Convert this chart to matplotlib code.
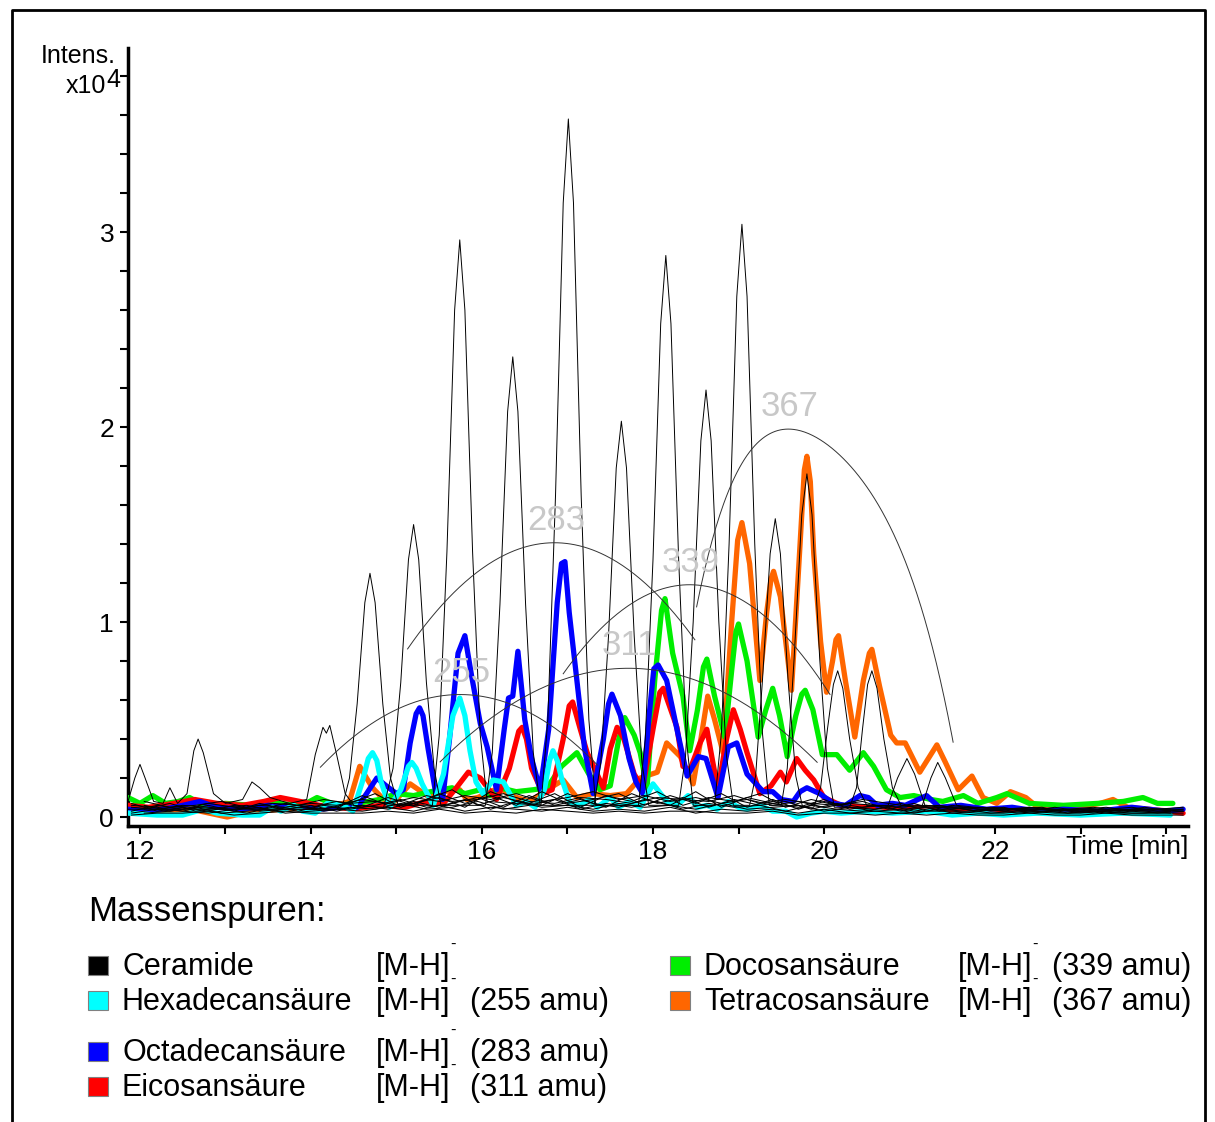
import matplotlib
matplotlib.use("Agg")
import matplotlib.pyplot as plt
from matplotlib.patches import Rectangle
from matplotlib.lines import Line2D
import numpy

plt.rcParams['font.family'] = ['Liberation Sans', 'DejaVu Sans']

# time [min] / intensity [x10^4]

# ceramide traces with the big peaks (two traces, alternating peaks)
ceramideA = [(11.86,0.08),(11.94,0.20),(12.00,0.27),(12.06,0.20),(12.16,0.08),(12.27,0.07),(12.35,0.15),
             (12.44,0.07),(12.55,0.12),(12.63,0.34),(12.68,0.40),(12.74,0.33),(12.86,0.12),(13.00,0.07),
             (13.20,0.09),(13.31,0.18),(13.40,0.15),(13.52,0.10),(13.75,0.07),(13.95,0.09),(14.05,0.32),
             (14.14,0.46),(14.18,0.43),(14.22,0.47),(14.30,0.32),(14.40,0.12),(14.50,0.06),(14.85,0.05),
             (14.96,0.25),(15.05,0.69),(15.14,1.32),(15.20,1.50),(15.26,1.32),(15.35,0.69),(15.44,0.25),
             (15.52,0.06),(16.04,0.06),(16.12,0.33),(16.21,1.09),(16.30,2.08),(16.36,2.36),(16.42,2.08),
             (16.51,1.09),(16.60,0.33),(16.68,0.06),(17.31,0.06),(17.39,0.28),(17.48,0.93),(17.57,1.79),
             (17.63,2.03),(17.69,1.79),(17.78,0.93),(17.87,0.28),(17.95,0.06),(18.30,0.06),(18.38,0.31),
             (18.47,1.00),(18.56,1.93),(18.62,2.19),(18.68,1.93),(18.77,1.00),(18.86,0.31),(18.94,0.06),
             (19.13,0.06),(19.20,0.21),(19.28,0.70),(19.37,1.35),(19.43,1.53),(19.49,1.35),(19.58,0.70),
             (19.67,0.21),(19.75,0.05),(19.88,0.05),(19.96,0.15),(20.04,0.45),(20.11,0.68),(20.16,0.75),
             (20.22,0.66),(20.30,0.40),(20.40,0.15),(20.50,0.06),(20.75,0.06),(20.86,0.20),(20.97,0.30),
             (21.06,0.22),(21.18,0.06),(21.60,0.05),(22.50,0.04),(24.20,0.04)]
ceramideB = [(11.86,0.04),(13.00,0.04),(14.30,0.04),(14.37,0.06),(14.45,0.20),(14.54,0.58),(14.63,1.10),
             (14.69,1.25),(14.75,1.10),(14.84,0.58),(14.93,0.20),(15.02,0.06),(15.42,0.06),(15.50,0.42),
             (15.59,1.36),(15.68,2.60),(15.74,2.96),(15.80,2.60),(15.89,1.36),(15.98,0.42),(16.06,0.08),
             (16.69,0.06),(16.77,0.50),(16.86,1.65),(16.95,3.15),(17.01,3.58),(17.07,3.15),(17.16,1.65),
             (17.25,0.50),(17.33,0.06),(17.83,0.06),(17.91,0.40),(18.00,1.32),(18.09,2.53),(18.15,2.88),
             (18.21,2.53),(18.30,1.32),(18.39,0.40),(18.47,0.06),(18.72,0.06),(18.80,0.43),(18.89,1.40),
             (18.98,2.67),(19.04,3.04),(19.10,2.67),(19.19,1.40),(19.28,0.43),(19.36,0.06),(19.50,0.06),
             (19.57,0.25),(19.65,0.81),(19.74,1.55),(19.80,1.76),(19.86,1.55),(19.95,0.81),(20.04,0.25),
             (20.12,0.05),(20.30,0.05),(20.38,0.15),(20.45,0.45),(20.51,0.68),(20.56,0.75),(20.62,0.66),
             (20.70,0.40),(20.80,0.15),(20.90,0.06),(21.15,0.06),(21.25,0.20),(21.33,0.28),(21.42,0.20),
             (21.55,0.06),(22.00,0.04),(24.20,0.03)]

# ceramide background traces on two sampling grids
noise_time = [11.9,12.2,12.5,12.8,13.1,13.4,13.7,14.0,14.3,14.6,14.9,15.2,15.5,15.8,16.1,16.4,16.7,17.0,
              17.3,17.6,17.9,18.2,18.5,18.8,19.1,19.4,19.7,20.0,20.3,20.6,20.9,21.2,21.5,21.8,22.1,22.4,
              22.7,23.0,23.3,23.6,23.9,24.2]
noise1 = [0.05,0.04,0.06,0.05,0.04,0.06,0.05,0.07,0.06,0.09,0.07,0.10,0.08,0.11,0.09,0.12,0.08,0.10,0.13,0.09,0.11,
          0.08,0.10,0.07,0.09,0.06,0.08,0.05,0.07,0.06,0.05,0.06,0.04,0.05,0.04,0.05,0.03,0.04,0.05,0.03,0.04,0.03]
noise2 = [0.03,0.06,0.04,0.07,0.05,0.04,0.07,0.05,0.08,0.05,0.10,0.06,0.12,0.07,0.11,0.06,0.13,0.07,0.09,0.12,0.06,
          0.11,0.07,0.12,0.05,0.09,0.04,0.08,0.05,0.04,0.07,0.03,0.06,0.04,0.03,0.05,0.04,0.03,0.04,0.05,0.03,0.04]
noise3 = [0.07,0.03,0.05,0.03,0.06,0.03,0.04,0.06,0.03,0.06,0.04,0.08,0.05,0.09,0.04,0.08,0.05,0.06,0.04,0.07,0.05,
          0.06,0.04,0.07,0.04,0.05,0.06,0.03,0.05,0.03,0.04,0.05,0.02,0.03,0.05,0.02,0.03,0.04,0.02,0.03,0.02,0.03]
noise4 = [0.02,0.04,0.03,0.02,0.04,0.05,0.02,0.03,0.04,0.03,0.05,0.03,0.06,0.03,0.05,0.04,0.03,0.05,0.03,0.04,0.03,
          0.05,0.02,0.04,0.03,0.04,0.02,0.04,0.02,0.03,0.02,0.03,0.03,0.02,0.02,0.03,0.02,0.02,0.03,0.02,0.02,0.02]
noise5 = [0.06,0.05,0.03,0.06,0.03,0.07,0.04,0.04,0.05,0.11,0.06,0.07,0.10,0.05,0.13,0.08,0.06,0.12,0.07,0.05,0.09,
          0.06,0.13,0.05,0.10,0.07,0.05,0.09,0.04,0.06,0.03,0.05,0.05,0.03,0.04,0.03,0.05,0.03,0.03,0.04,0.04,0.05]
noise6 = [0.01,0.02,0.02,0.03,0.01,0.02,0.03,0.02,0.02,0.02,0.03,0.02,0.04,0.02,0.03,0.02,0.04,0.03,0.02,0.03,0.02,
          0.03,0.03,0.02,0.02,0.03,0.01,0.02,0.02,0.01,0.02,0.01,0.02,0.01,0.01,0.02,0.01,0.01,0.02,0.01,0.01,0.01]
noise_time_b = [12.05,12.35,12.65,12.95,13.25,13.55,13.85,14.15,14.45,14.75,15.05,15.35,15.65,15.95,16.25,16.55,
                16.85,17.15,17.45,17.75,18.05,18.35,18.65,18.95,19.25,19.55,19.85,20.15,20.45,20.75,21.05,21.35,
                21.65,21.95,22.25,22.55,22.85,23.15,23.45,23.75,24.05]
noise7 = [0.04,0.07,0.03,0.05,0.06,0.03,0.05,0.04,0.07,0.12,0.05,0.09,0.14,0.06,0.10,0.07,0.12,0.05,0.11,0.08,0.13,
          0.06,0.10,0.08,0.12,0.05,0.09,0.06,0.08,0.04,0.07,0.03,0.05,0.03,0.04,0.05,0.02,0.04,0.03,0.05,0.03]
noise8 = [0.06,0.03,0.05,0.04,0.02,0.05,0.03,0.06,0.04,0.06,0.09,0.05,0.07,0.10,0.05,0.11,0.06,0.09,0.05,0.12,0.07,
          0.10,0.05,0.09,0.06,0.08,0.04,0.07,0.05,0.06,0.03,0.05,0.04,0.02,0.03,0.04,0.03,0.02,0.04,0.03,0.02]
noise9 = [0.02,0.03,0.05,0.02,0.03,0.04,0.06,0.03,0.05,0.04,0.07,0.04,0.05,0.08,0.04,0.06,0.09,0.04,0.07,0.05,0.08,
          0.04,0.07,0.05,0.06,0.03,0.06,0.04,0.03,0.05,0.02,0.04,0.03,0.04,0.02,0.03,0.02,0.03,0.02,0.02,0.03]
noise10 = [0.08,0.05,0.06,0.08,0.05,0.07,0.06,0.09,0.07,0.08,0.06,0.11,0.08,0.09,0.12,0.08,0.07,0.10,0.09,0.07,0.10,
           0.09,0.08,0.11,0.07,0.09,0.07,0.06,0.09,0.07,0.05,0.06,0.04,0.05,0.04,0.03,0.04,0.05,0.03,0.04,0.04]

hexadecan = [(11.86,0.02),(12.20,0.01),(12.50,0.01),(12.74,0.04),(12.90,0.02),(13.20,0.01),(13.40,0.01),
             (13.55,0.05),(13.65,0.03),(13.80,0.06),(13.90,0.03),(14.05,0.02),(14.19,0.07),(14.37,0.06),
             (14.49,0.03),(14.60,0.18),(14.67,0.30),(14.72,0.33),(14.77,0.29),(14.82,0.18),(14.92,0.05),
             (15.05,0.14),(15.14,0.26),(15.18,0.28),(15.23,0.25),(15.30,0.17),(15.43,0.06),(15.55,0.22),
             (15.66,0.52),(15.74,0.61),(15.80,0.52),(15.86,0.34),(15.93,0.18),(16.01,0.12),(16.13,0.19),
             (16.25,0.18),(16.40,0.06),(16.52,0.08),(16.62,0.05),(16.73,0.14),(16.79,0.29),(16.83,0.34),
             (16.88,0.29),(16.93,0.20),(17.03,0.07),(17.15,0.06),(17.25,0.09),(17.35,0.05),(17.50,0.10),
             (17.60,0.05),(17.72,0.08),(17.85,0.05),(18.00,0.17),(18.16,0.08),(18.28,0.06),(18.41,0.11),
             (18.52,0.05),(18.63,0.06),(18.75,0.04),(18.88,0.08),(19.00,0.05),(19.10,0.04),(19.25,0.06),
             (19.40,0.03),(19.55,0.03),(19.68,0.00),(19.85,0.02),(20.00,0.03),(20.20,0.02),(20.50,0.03),
             (20.80,0.02),(21.20,0.03),(21.50,0.01),(21.80,0.02),(22.10,0.01),(22.50,0.02),(23.00,0.01),
             (23.50,0.02),(24.05,0.01)]
octadecan = [(11.86,0.04),(12.10,0.03),(12.40,0.05),(12.70,0.08),(12.90,0.05),(13.20,0.04),(13.50,0.06),
             (13.80,0.05),(14.10,0.04),(14.35,0.05),(14.54,0.05),(14.65,0.12),(14.77,0.20),(14.88,0.16),
             (15.00,0.12),(15.08,0.14),(15.16,0.38),(15.23,0.53),(15.27,0.56),(15.31,0.52),(15.37,0.35),
             (15.46,0.12),(15.54,0.09),(15.62,0.40),(15.72,0.84),(15.80,0.93),(15.88,0.72),(15.98,0.48),
             (16.06,0.36),(16.17,0.14),(16.26,0.45),(16.31,0.61),(16.36,0.62),(16.42,0.85),(16.50,0.50),
             (16.58,0.30),(16.68,0.14),(16.78,0.45),(16.88,1.10),(16.93,1.30),(16.97,1.31),(17.02,1.05),
             (17.11,0.70),(17.20,0.35),(17.30,0.12),(17.42,0.40),(17.48,0.58),(17.52,0.63),(17.62,0.52),
             (17.72,0.30),(17.80,0.18),(17.88,0.12),(17.95,0.50),(18.01,0.76),(18.06,0.78),(18.16,0.70),
             (18.28,0.45),(18.40,0.21),(18.53,0.31),(18.62,0.30),(18.76,0.10),(18.88,0.36),(18.98,0.38),
             (19.10,0.22),(19.29,0.13),(19.40,0.13),(19.50,0.09),(19.64,0.08),(19.72,0.13),(19.80,0.15),
             (19.95,0.12),(20.11,0.07),(20.25,0.06),(20.42,0.11),(20.52,0.10),(20.62,0.06),(20.80,0.07),
             (20.95,0.06),(21.20,0.11),(21.35,0.05),(21.60,0.06),(21.90,0.04),(22.20,0.05),(22.50,0.03),
             (22.80,0.04),(23.20,0.03),(23.60,0.05),(24.00,0.03),(24.20,0.04)]
eicosan = [(11.86,0.06),(12.10,0.05),(12.40,0.07),(12.64,0.09),(12.90,0.07),(13.20,0.06),(13.45,0.08),
           (13.64,0.10),(13.87,0.08),(14.10,0.06),(14.30,0.05),(14.50,0.04),(14.80,0.06),(15.10,0.05),
           (15.35,0.08),(15.55,0.07),(15.70,0.15),(15.84,0.23),(15.98,0.20),(16.17,0.09),(16.32,0.25),
           (16.43,0.44),(16.47,0.46),(16.52,0.40),(16.58,0.25),(16.71,0.12),(16.82,0.14),(16.95,0.40),
           (17.02,0.57),(17.06,0.59),(17.15,0.45),(17.23,0.33),(17.42,0.15),(17.50,0.35),(17.58,0.46),
           (17.66,0.40),(17.78,0.22),(17.88,0.15),(18.00,0.45),(18.08,0.64),(18.12,0.66),(18.20,0.56),
           (18.28,0.46),(18.35,0.26),(18.43,0.24),(18.55,0.38),(18.63,0.45),(18.70,0.28),(18.76,0.14),
           (18.86,0.40),(18.94,0.55),(19.02,0.45),(19.10,0.33),(19.25,0.12),(19.38,0.16),(19.49,0.23),
           (19.56,0.18),(19.68,0.30),(19.78,0.24),(19.88,0.19),(20.00,0.10),(20.20,0.06),(20.50,0.05),
           (20.80,0.04),(21.10,0.05),(21.40,0.03),(21.80,0.04),(22.20,0.03),(22.60,0.02),(23.00,0.03),
           (23.50,0.02),(24.00,0.03),(24.20,0.02)]
docosan = [(11.86,0.10),(12.00,0.07),(12.15,0.11),(12.30,0.07),(12.45,0.08),(12.58,0.10),(12.75,0.06),
           (13.00,0.07),(13.30,0.06),(13.60,0.07),(13.90,0.06),(14.07,0.10),(14.30,0.06),(14.55,0.07),
           (14.80,0.09),(15.00,0.12),(15.20,0.11),(15.40,0.13),(15.65,0.15),(15.80,0.12),(15.98,0.14),
           (16.10,0.11),(16.21,0.15),(16.40,0.13),(16.60,0.14),(16.76,0.15),(16.93,0.26),(17.11,0.33),
           (17.25,0.22),(17.38,0.14),(17.50,0.16),(17.60,0.40),(17.67,0.51),(17.78,0.42),(17.85,0.33),
           (17.93,0.15),(18.02,0.70),(18.10,1.06),(18.14,1.12),(18.23,0.84),(18.35,0.62),(18.43,0.34),
           (18.52,0.55),(18.59,0.77),(18.63,0.81),(18.72,0.62),(18.84,0.41),(18.92,0.75),(18.97,0.95),
           (19.00,0.99),(19.10,0.80),(19.23,0.41),(19.32,0.55),(19.40,0.66),(19.48,0.52),(19.57,0.31),
           (19.67,0.52),(19.74,0.63),(19.78,0.65),(19.87,0.55),(19.98,0.32),(20.15,0.32),(20.30,0.24),
           (20.46,0.33),(20.58,0.26),(20.73,0.14),(20.89,0.10),(21.05,0.11),(21.25,0.09),(21.39,0.08),
           (21.63,0.11),(21.80,0.07),(22.02,0.10),(22.14,0.12),(22.40,0.07),(22.80,0.06),(23.20,0.07),
           (23.50,0.08),(23.73,0.10),(23.90,0.07),(24.08,0.07)]
tetracosan = [(11.86,0.04),(12.20,0.03),(12.60,0.04),(13.02,0.00),(13.30,0.03),(13.70,0.04),(14.00,0.05),
              (14.30,0.06),(14.45,0.08),(14.57,0.26),(14.65,0.20),(14.72,0.15),(14.85,0.09),(14.98,0.08),
              (15.16,0.17),(15.39,0.10),(15.55,0.13),(15.74,0.14),(15.82,0.09),(15.95,0.10),(16.10,0.13),
              (16.21,0.15),(16.33,0.11),(16.56,0.08),(16.76,0.14),(16.95,0.19),(17.11,0.10),(17.30,0.12),
              (17.50,0.11),(17.69,0.12),(17.85,0.20),(18.05,0.23),(18.16,0.38),(18.32,0.31),(18.47,0.17),
              (18.56,0.40),(18.64,0.62),(18.72,0.50),(18.82,0.33),(18.92,1.00),(18.99,1.42),(19.04,1.51),
              (19.13,1.30),(19.25,0.70),(19.33,1.05),(19.38,1.22),(19.41,1.26),(19.49,1.13),(19.62,0.65),
              (19.72,1.40),(19.77,1.78),(19.80,1.85),(19.84,1.72),(19.88,1.35),(19.96,0.90),(20.03,0.64),
              (20.10,0.80),(20.14,0.91),(20.17,0.93),(20.25,0.70),(20.36,0.41),(20.46,0.70),(20.53,0.84),
              (20.56,0.86),(20.65,0.67),(20.78,0.42),(20.85,0.38),(20.95,0.38),(21.12,0.23),(21.22,0.30),
              (21.32,0.37),(21.42,0.28),(21.57,0.14),(21.73,0.21),(21.86,0.10),(22.02,0.07),(22.18,0.13),
              (22.36,0.10),(22.50,0.05),(22.76,0.03),(23.00,0.05),(23.23,0.07),(23.38,0.09),(23.55,0.05),
              (23.80,0.04),(24.05,0.03)]

# guide arcs over the homologous peaks, with their mass labels
arc_labels = ["255", "283", "311", "339", "367"]
arc255 = [(14.11,0.26),(14.65,0.45),(15.20,0.59),(15.80,0.64),(16.21,0.60),(16.56,0.52),(17.18,0.34),(17.35,0.27)]
arc283 = [(15.13,0.86),(15.59,1.11),(16.21,1.34),(16.87,1.42),(17.77,1.22),(18.08,1.13),(18.49,0.92)]
arc311 = [(15.51,0.28),(16.00,0.48),(16.56,0.63),(17.20,0.73),(17.80,0.76),(18.63,0.69),(19.33,0.50),(19.92,0.28)]
arc339 = [(16.95,0.74),(17.50,1.00),(18.05,1.16),(18.45,1.20),(19.13,1.10),(19.68,0.84),(20.07,0.64)]
arc367 = [(18.51,1.04),(18.62,1.30),(18.75,1.55),(18.94,1.77),(19.15,1.88),(19.35,1.92),(19.65,1.94),
          (20.00,1.92),(20.25,1.86),(20.50,1.76),(20.97,1.22),(21.51,0.40)]

legend_names = ["Ceramide", "Hexadecansäure", "Octadecansäure", "Eicosansäure", "Docosansäure", "Tetracosansäure"]
legend_mass = ["", "(255 amu)", "(283 amu)", "(311 amu)", "(339 amu)", "(367 amu)"]
colors = ["#000000", "#00ffff", "#0000ff", "#ff0000", "#00ee00", "#ff6600"]

W, H = 1215, 1122


def unzip(points):
    return [p[0] for p in points], [p[1] for p in points]


def fx(px):
    return px / W


def fy(py):
    return 1 - py / H


fig = plt.figure(figsize=(W / 100, H / 100), dpi=100)
ax = fig.add_axes([fx(128), fy(826), fx(1188) - fx(128), fy(48) - fy(826)])

# coloured traces, drawn from the last legend entry to the first
for series, col in zip([tetracosan, docosan, eicosan, octadecan, hexadecan], colors[:0:-1]):
    t, y = unzip(series)
    ax.plot(t, y, color=col, linewidth=3.8, solid_joinstyle='round', solid_capstyle='round', zorder=3)

for n in [noise1, noise2, noise3, noise4, noise5, noise6]:
    ax.plot(noise_time, n, color='black', linewidth=0.75, zorder=4)
for n in [noise7, noise8, noise9, noise10]:
    ax.plot(noise_time_b, n, color='black', linewidth=0.75, zorder=4)
for series in [ceramideA, ceramideB]:
    t, y = unzip(series)
    ax.plot(t, y, color='black', linewidth=0.7, zorder=4)

for label, arc in zip(arc_labels, [arc255, arc283, arc311, arc339, arc367]):
    t, y = unzip(arc)
    model = numpy.poly1d(numpy.polyfit(t, y, 4 if label == "367" else 2))
    line = numpy.linspace(t[0], t[-1], 200)
    ax.plot(line, model(line), color='#333333', linewidth=0.7, zorder=5)
    top = line[numpy.argmax(model(line))]
    ax.text(top + 0.02, model(top) + 0.03, label, color='#c8c8c8', fontsize=25,
            ha='center', va='bottom', zorder=6)

ax.set_xlim(11.86, 24.257)
ax.set_ylim(-0.046, 3.944)
for s in ['top', 'right']:
    ax.spines[s].set_visible(False)
for s in ['left', 'bottom']:
    ax.spines[s].set_linewidth(2.5)

ax.set_xticks(range(12, 25))
ax.set_xticklabels([str(v) if v % 2 == 0 and v < 24 else "" for v in range(12, 25)])
ax.set_yticks([0, 1, 2, 3])
ax.set_yticks(numpy.arange(0, 3.81, 0.2), minor=True)
ax.tick_params(axis='both', which='both', direction='out', length=6, width=1.5, labelsize=19, pad=4)
ax.tick_params(axis='y', which='minor', length=6)
ax.text(1.0, -0.012, "Time [min]", transform=ax.transAxes, ha='right', va='top', fontsize=19)

fig.text(fx(116), fy(56), "Intens.", ha='right', va='center', fontsize=18)
fig.text(fx(106), fy(86), "x10", ha='right', va='center', fontsize=18)
fig.text(fx(106), fy(80), "4", ha='left', va='center', fontsize=18)

# legend block
fig.text(fx(88), fy(921), "Massenspuren:", ha='left', va='baseline', fontsize=25)
rows = [(88, 975), (88, 1010), (88, 1061), (88, 1096), (670, 975), (670, 1010)]
for (x0, base), name, mass, col in zip(rows, legend_names, legend_mass, colors):
    fig.patches.append(Rectangle((fx(x0), fy(base)), fx(20), 19 / H, transform=fig.transFigure,
                                 facecolor=col, edgecolor='#808080', linewidth=0.8))
    fig.text(fx(x0 + 34), fy(base), name, ha='left', va='baseline', fontsize=22)
    fig.text(fx(x0 + 288), fy(base), "[M-H]", ha='left', va='baseline', fontsize=22)
    fig.text(fx(x0 + 362), fy(base - 26), "-", ha='left', va='baseline', fontsize=12)
    fig.text(fx(x0 + 382), fy(base), mass, ha='left', va='baseline', fontsize=22)

# outer frame
fig.add_artist(Line2D([fx(12), fx(12), fx(1205), fx(1205)], [0, fy(10), fy(10), 0],
                      transform=fig.transFigure, color='black', linewidth=2))

fig.savefig("out.png", dpi=100)
